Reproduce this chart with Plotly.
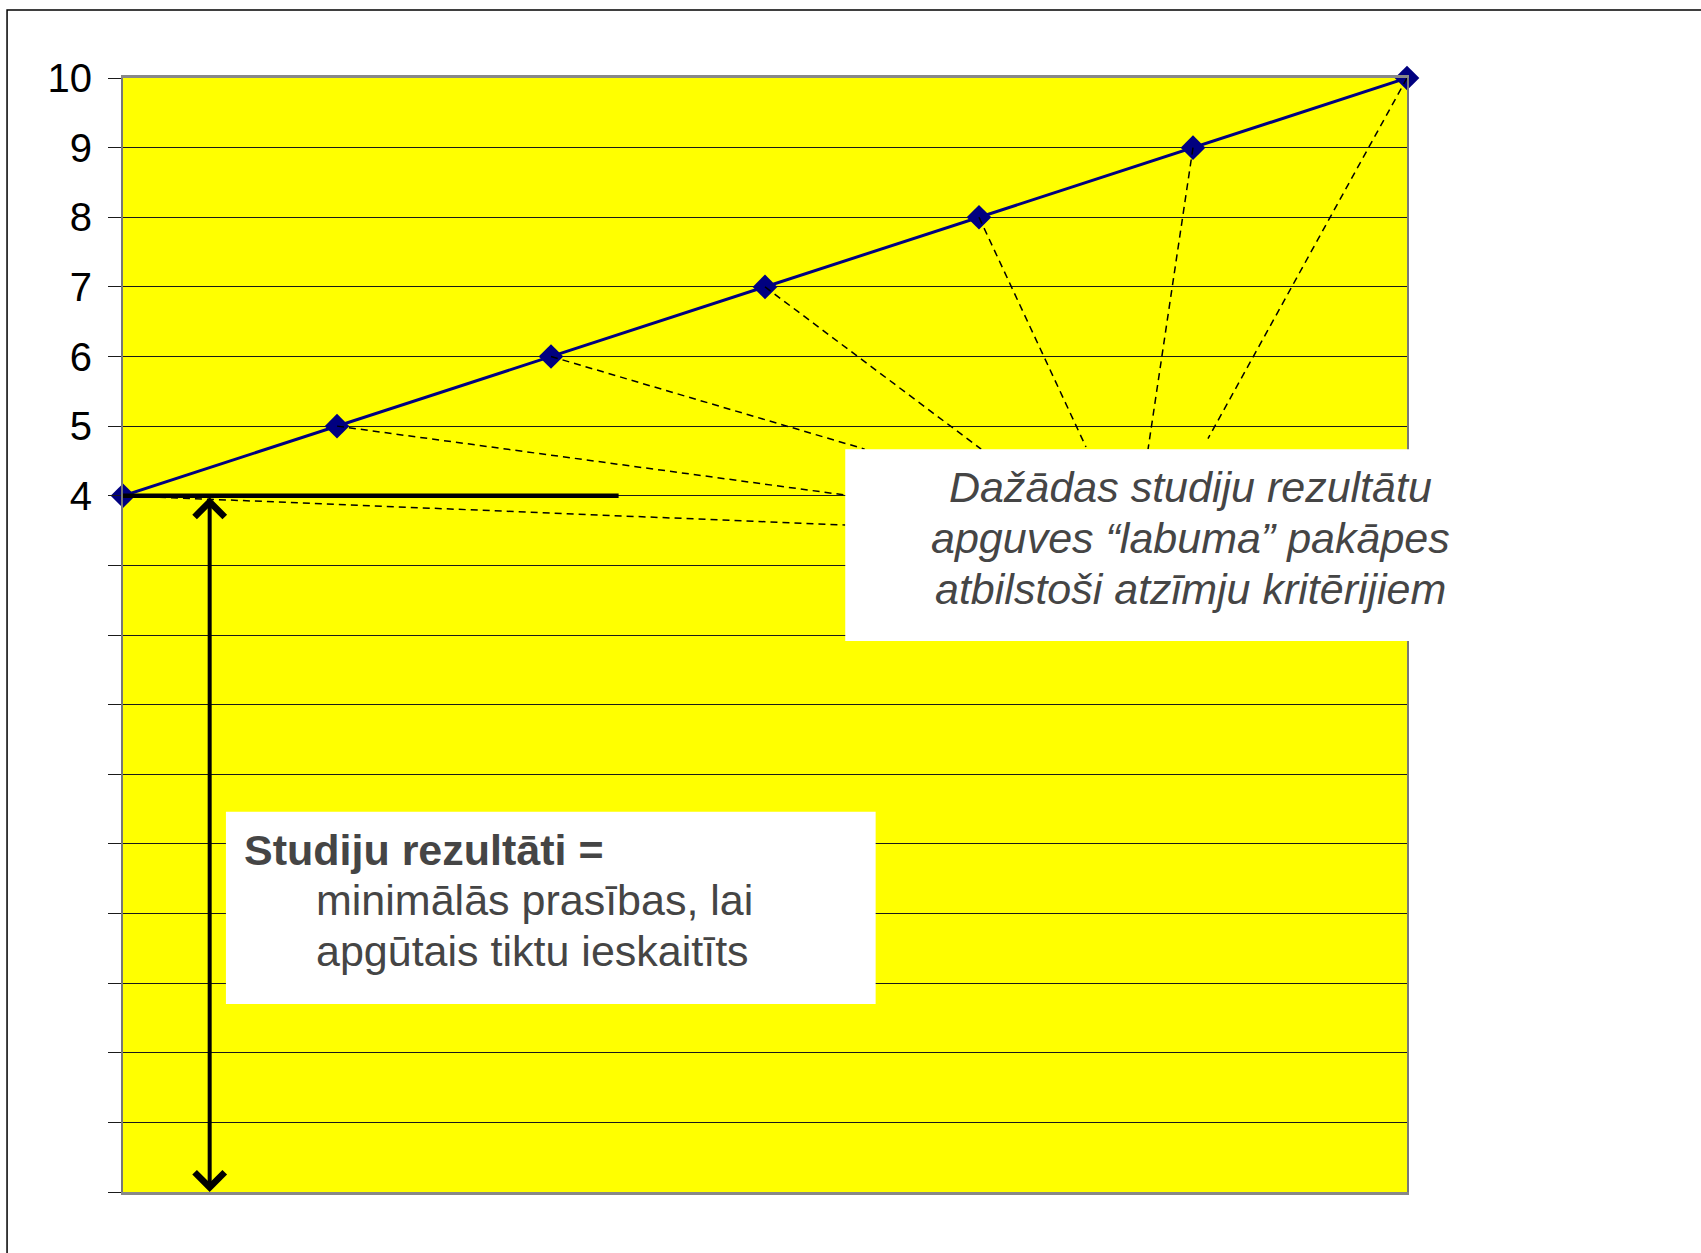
import plotly.graph_objects as go

# ---- data ----
positions = [0, 1, 2, 3, 4, 5, 6]
grades = [4, 5, 6, 7, 8, 9, 10]

y_tickvals = list(range(-6, 11))
y_ticktext = [str(v) if v >= 4 else "" for v in y_tickvals]

# dashed "pointer" lines: start at each grade point, end at the callout box
dash_end_x = [3.375, 3.375, 3.466, 4.01, 4.50, 4.79, 5.07]
dash_end_y = [3.58, 4.01, 4.67, 4.67, 4.70, 4.67, 4.82]

minimum_grade = 4
axis_bottom = -6

text_box1_lines = ["Dažādas studiju rezultātu",
                   "apguves “labuma” pakāpes",
                   "atbilstoši atzīmju kritērijiem"]
text_box2_title = "Studiju rezultāti ="
text_box2_lines = ["minimālās prasības, lai", "apgūtais tiktu ieskaitīts"]

FONT = "Liberation Sans, Arial, sans-serif"
TXT = "#454545"

fig = go.Figure()

fig.add_trace(go.Scatter(
    x=positions, y=grades, mode="lines+markers",
    line=dict(color="#000080", width=3),
    marker=dict(symbol="diamond", size=19, color="#000080"),
    cliponaxis=False, showlegend=False, hoverinfo="skip"))

shapes = []
# dashed pointer lines
for xs, ys, xe, ye in zip(positions, grades, dash_end_x, dash_end_y):
    shapes.append(dict(type="line", xref="x", yref="y", x0=xs, y0=ys, x1=xe, y1=ye,
                       line=dict(color="black", width=1.5, dash="7px,5px"), layer="above"))
# thick horizontal line at minimum grade
shapes.append(dict(type="line", xref="x", yref="y", x0=0, y0=minimum_grade, x1=2.316, y1=minimum_grade,
                   line=dict(color="black", width=4.5), layer="above"))
# white callout boxes
shapes.append(dict(type="rect", xref="paper", yref="y", x0=3.375 / 6, x1=1.12, y0=1.913, y1=4.667,
                   fillcolor="white", line=dict(width=0), layer="above"))
shapes.append(dict(type="rect", xref="x", yref="y", x0=0.481, x1=3.517, y0=-3.30, y1=-0.54,
                   fillcolor="white", line=dict(width=0), layer="above"))
# outer frame
shapes.append(dict(type="rect", xref="paper", yref="paper", x0=-0.0903, x1=1.4, y0=-0.2, y1=1.061,
                   fillcolor="rgba(0,0,0,0)", line=dict(color="black", width=1.5), layer="above"))

annotations = []
# double-headed arrow
annotations.append(dict(x=0.405, y=axis_bottom, ax=0.405, ay=minimum_grade, xref="x", yref="y",
                        axref="x", ayref="y", text="", showarrow=True, arrowhead=4, startarrowhead=4,
                        arrowside="end+start", arrowwidth=4, arrowsize=1.45, startarrowsize=1.45,
                        arrowcolor="black", standoff=0, startstandoff=0))
for line, yv in zip(text_box1_lines, [4.121, 3.390, 2.659]):
    annotations.append(dict(x=4.99, y=yv, xref="x", yref="y", text="<i>" + line + "</i>",
                            showarrow=False, xanchor="center", yanchor="middle",
                            font=dict(family=FONT, size=43, color=TXT)))
annotations.append(dict(x=0.558, y=-1.089, xref="x", yref="y", text="<b>" + text_box2_title + "</b>",
                        showarrow=False, xanchor="left", yanchor="middle",
                        font=dict(family=FONT, size=43, color=TXT)))
for line, yv in zip(text_box2_lines, [-1.804, -2.535]):
    annotations.append(dict(x=0.892, y=yv, xref="x", yref="y", text=line,
                            showarrow=False, xanchor="left", yanchor="middle",
                            font=dict(family=FONT, size=43, color=TXT)))

fig.update_layout(
    width=1701, height=1253,
    margin=dict(l=123, r=294, t=78, b=61),
    paper_bgcolor="white", plot_bgcolor="#FFFF00",
    shapes=shapes, annotations=annotations,
    xaxis=dict(range=[0, 6], showgrid=False, zeroline=False, showticklabels=False, ticks="",
               showline=True, linecolor="#888888", linewidth=3, mirror=True),
    yaxis=dict(range=[-6, 10], tickvals=y_tickvals, ticktext=y_ticktext,
               showgrid=True, gridcolor="#1a1a1a", gridwidth=1, zeroline=False,
               ticks="outside", ticklen=13, tickcolor="#1a1a1a", tickwidth=1,
               ticklabelstandoff=8,
               tickfont=dict(family=FONT, size=40, color="black"),
               showline=True, linecolor="#777777", linewidth=2, mirror=True),
)

fig.write_html("out.html")
